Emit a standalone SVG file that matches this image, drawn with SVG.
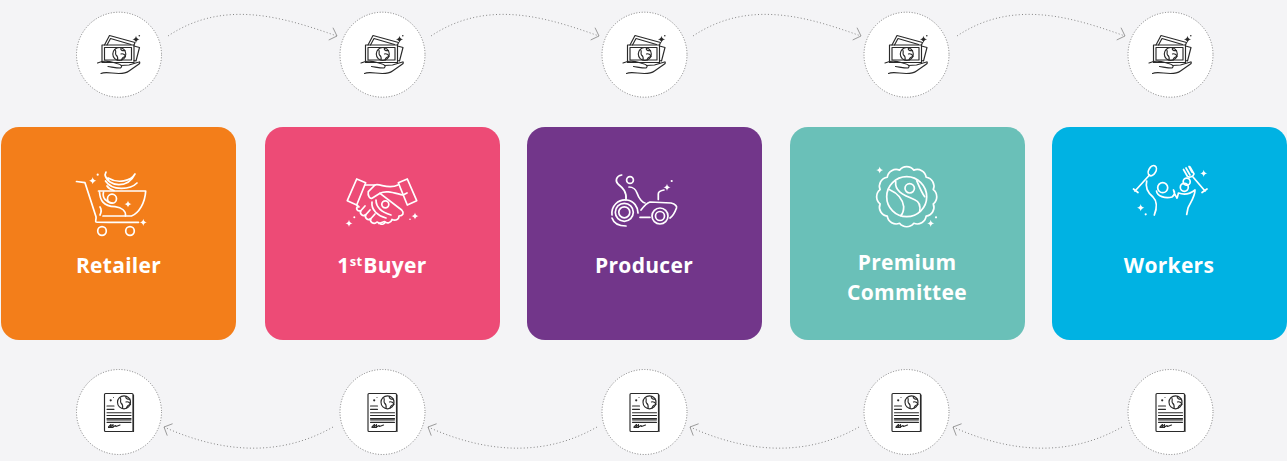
<svg xmlns="http://www.w3.org/2000/svg" width="1287" height="461" viewBox="0 0 1287 461">
<style>
.card{stroke:none}
.ring{fill:#fff;stroke:#808080;stroke-width:1;stroke-dasharray:1 1.7}
.link{fill:none;stroke:#858585;stroke-width:1;stroke-dasharray:1 2.3}
.head{fill:none;stroke:#8f8f8f;stroke-width:.8}
.ico{fill:none;stroke:#fff;stroke-width:1.7;stroke-linecap:round;stroke-linejoin:round}
.wf{fill:#fff;stroke:none}
.dk{fill:none;stroke:#2a2a2a;stroke-width:1.15;stroke-linecap:round;stroke-linejoin:round}
.df{fill:#2a2a2a;stroke:none}
.lbl{font-family:"Open Sans","Liberation Sans",sans-serif;font-weight:700;font-size:21px;fill:#fff;text-anchor:middle;letter-spacing:.3px}
</style>
<defs>
<path id="sp" d="M0-3.600Q.5-.5 3.600 0Q.5.5 0 3.600Q-.5.5-3.600 0Q-.5-.5 0-3.600Z"/>
<marker id="ah" markerUnits="userSpaceOnUse" markerWidth="14" markerHeight="18" refX="11" refY="9" orient="auto">
<path class="head" d="M4.500 2.500L11 9L4.500 15.500"/>
</marker>
<g id="money">
<path class="dk" d="M102 45H134V62.500H102ZM104.500 47.500H131.500V60H104.500Z"/>
<path class="dk" d="M104.500 45L109.500 35.500L135 42.500L134 45M107 45L110.500 38.500L131 44.500"/>
<path class="dk" d="M134 46L139.500 47.500L136 61L134 60.500"/>
<circle class="dk" cx="119.300" cy="54" r="6.500"/>
<path class="dk" d="M115 49.500C117 52 114.500 53 116 55C118 56.500 118 58 117.500 60M121 48C120 50.500 123 51 125 50.500M121 54C123 53 125 55 125.500 56.500C123 57 122 58 121.500 60"/>
<path class="dk" d="M97.500 63L102 61.500C108 60 112 62 117 63.500C121 64.500 123 66 120.500 68C116 68 112 67 108 66.500M121 65.500L129 65L139 62C140 61.500 140 63.500 139 64L129 71C125 74 120 74 112 73C107 72.500 103 72.500 101 73.500"/>
<use href="#sp" class="df" x="136" y="39.300"/>
<circle class="df" cx="139.300" cy="35.700" r=".8"/>
</g>
<g id="doc">
<rect class="dk" x="104.500" y="393.500" width="28.500" height="38" rx="1"/>
<path class="dk" d="M133.500 395V431.500"/>
<circle class="dk" cx="124" cy="402.300" r="6.500"/>
<path class="dk" d="M120 397.500C122 400 119.500 401 121 403C123 404.500 123 406 122.500 408.500M126 396.500C125 398.500 128 399.500 130 399M126 402C128 401 130 403 130.500 404.500C128 405 127 406 126.500 408"/>
<path class="dk" d="M107 406H114M107 409.300H114M107 412.700H131M107 415.500H131M107 418.500H131M107 419.800H131M107 422.300H131"/>
<path class="dk" d="M108.500 427L111 424.500L110.500 427.500L113 424.500L113 427L115.500 425.500L116 426.500L120 425M108.500 427.500H113"/>
<circle class="df" cx="110.700" cy="400.300" r="1.100"/>
<circle class="df" cx="113.500" cy="397.500" r=".5"/>
</g>
</defs>
<rect width="1287" height="461" fill="#f4f4f6"/>

<g id="connectors">
<g>
<path class="link" marker-end="url(#ah)" d="M168 36C225-2 285 18 337 36"/>
<path class="link" marker-end="url(#ah)" d="M431 36C488-2 548 18 599 36"/>
<path class="link" marker-end="url(#ah)" d="M693 36C750-2 810 18 861 36"/>
<path class="link" marker-end="url(#ah)" d="M957 36C1014-2 1074 18 1125 36"/>
</g>
<g>
<path class="link" marker-end="url(#ah)" d="M333 427C275 460 215 450 164 427"/>
<path class="link" marker-end="url(#ah)" d="M597 427C539 460 479 450 428 427"/>
<path class="link" marker-end="url(#ah)" d="M859 427C801 460 741 450 690 427"/>
<path class="link" marker-end="url(#ah)" d="M1122 427C1064 460 1004 450 953 427"/>
</g>
</g>

<g id="pay-1"><circle class="ring" cx="119" cy="54.700" r="42.500"/><use href="#money"/></g>
<g id="pay-2"><circle class="ring" cx="382.500" cy="54.700" r="42.500"/><use href="#money" x="263.500"/></g>
<g id="pay-3"><circle class="ring" cx="644.500" cy="54.700" r="42.500"/><use href="#money" x="525.500"/></g>
<g id="pay-4"><circle class="ring" cx="906.500" cy="54.700" r="42.500"/><use href="#money" x="787.500"/></g>
<g id="pay-5"><circle class="ring" cx="1170.500" cy="54.700" r="42.500"/><use href="#money" x="1051.500"/></g>

<g id="doc-1"><circle class="ring" cx="119" cy="412" r="42.500"/><use href="#doc"/></g>
<g id="doc-2"><circle class="ring" cx="382.500" cy="412" r="42.500"/><use href="#doc" x="263.500"/></g>
<g id="doc-3"><circle class="ring" cx="644.500" cy="412" r="42.500"/><use href="#doc" x="525.500"/></g>
<g id="doc-4"><circle class="ring" cx="906.500" cy="412" r="42.500"/><use href="#doc" x="787.500"/></g>
<g id="doc-5"><circle class="ring" cx="1170.500" cy="412" r="42.500"/><use href="#doc" x="1051.500"/></g>

<g id="retailer">
<rect class="card" x="1" y="127" width="235" height="213" rx="18" fill="#f37e1a"/>
<path class="ico" d="M76.500 181.500L85 182.700L96 216.700C96.500 219 95 221 96 222C97 222.500 120 222.300 138.500 222.300"/>
<path class="ico" d="M98.500 191H145.700C145 203 139 213 131.500 216H103"/>
<path class="ico" d="M99.500 192C100 200 103 206 115 206.700C122 207.500 126 211 125.500 216M103.500 192C102 198 106 202 112 203M100 207C102 210 101 213 100 215"/>
<path class="ico" d="M105 175C108 187 128 189 135 174C131 181 118 184 108 178M105.500 181C112 191 130 190 137 183M105 175L106 172M107 186C109 189 112 190 114 190.500"/>
<circle class="ico" cx="112" cy="198.700" r="4.500"/>
<circle class="ico" cx="102" cy="231" r="4.300"/>
<circle class="ico" cx="130" cy="231" r="4.300"/>
<use href="#sp" class="wf" x="92.700" y="180.700"/>
<circle class="wf" cx="97.700" cy="174.700" r="1.100"/>
<use href="#sp" class="wf" x="128" y="204"/>
<use href="#sp" class="wf" x="143.300" y="222.300"/>
<text class="lbl" x="118.500" y="273">Retailer</text>
</g>

<g id="first-buyer">
<rect class="card" x="265" y="127" width="235" height="213" rx="18" fill="#ed4b76"/>
<path class="ico" d="M356.700 179L365.700 182.700L356.700 205L347.300 200.700ZM398.300 182.700L407.300 179L416.700 200.700L407.300 205Z"/>
<path class="ico" d="M365.700 185L375 185L368.300 191.700C367.500 196 370 199 372 198.300L380 193.300L401.700 210C404.500 213 403 216 399 216C399 220 395 221 392 219.500C391 223 387 224 384.500 221.500L379 223.500"/>
<path class="ico" d="M375 185C380 183 388 190 398 185M380 193.300C386 190 394 193 403 195L407 193"/>
<path class="ico" d="M358 206C355 209 358 212 361 210.500C359 214 363 217 366 214.500C364 218 368 221 371 218.500C369 222 374 225 377 222L380 223.500C382 225 385 224 385 222M361 210.500L365 206M366 214.500L370 210M371 218.500L375 214M356.700 205L359 207"/>
<path class="ico" d="M372 202C371 210 378 216 386 218M376 200C376 207 381 212 391 215"/>
<circle class="ico" cx="385.300" cy="204.300" r="3.500"/>
<use href="#sp" class="wf" x="349" y="223.300"/>
<circle class="wf" cx="354.300" cy="217.300" r="1"/>
<use href="#sp" class="wf" x="415" y="216"/>
<circle class="wf" cx="410" cy="219.300" r=".8"/>
<text class="lbl" x="382" y="273">1<tspan font-size="13" dy="-7">st</tspan><tspan dy="7" dx="1">Buyer</tspan></text>
</g>

<g id="producer">
<rect class="card" x="527" y="127" width="235" height="213" rx="18" fill="#72368a"/>
<path class="ico" d="M621.700 175C616 176 615 181 618 184C623 188 627 192 626 200"/>
<path class="ico" d="M629 187C633 187 636 190 637 193C639 199 643 203 645 203"/>
<circle class="ico" cx="630" cy="180" r="3.400"/>
<path class="ico" d="M612 215C611 206 618 199 627 200C634 201 638 207 638 213"/>
<path class="ico" d="M612 218C614 224 620 226 626 226"/>
<circle class="ico" cx="624.300" cy="212.300" r="9"/>
<circle class="ico" cx="624.300" cy="212.300" r="5.500"/>
<circle class="ico" cx="660" cy="216" r="8"/>
<circle class="ico" cx="660" cy="216" r="4.500"/>
<path class="ico" d="M640 217.300H650M641 210C644 206 647 203 650 202L671 203C675 204 677 206 676.500 208C675 212 673 216 670 218M658.300 199.500V194C658.300 191.500 661 190.500 664 190"/>
<use href="#sp" class="wf" x="667" y="187.300"/>
<circle class="wf" cx="671.700" cy="181" r="1.100"/>
<text class="lbl" x="644" y="273">Producer</text>
</g>

<g id="premium-committee">
<rect class="card" x="790" y="127" width="235" height="213" rx="18" fill="#6ac0b8"/>
<g transform="translate(906.700 196.700)">
<path class="ico" d="M26.560 7.120A9 9 0 0 1 19.450 19.450A9 9 0 0 1 7.120 26.560A9 9 0 0 1-7.120 26.560A9 9 0 0 1-19.450 19.450A9 9 0 0 1-26.560 7.120A9 9 0 0 1-26.560-7.120A9 9 0 0 1-19.450-19.450A9 9 0 0 1-7.120-26.560A9 9 0 0 1 7.120-26.560A9 9 0 0 1 19.450-19.450A9 9 0 0 1 26.560-7.120A9 9 0 0 1 26.560 7.120Z"/>
<circle class="ico" r="20"/>
<circle class="ico" cx="3" cy="-8.400" r="4.700"/>
<path class="ico" d="M-11-15C-12-6-5-2 8 3C13 5 14 9 13 15"/>
<path class="ico" d="M-17-7C-8-3-4 2-3 10C-3 14-4 17-6 19"/>
<path class="ico" d="M10-16C13-9 15-4 18 0"/>
</g>
<use href="#sp" class="wf" x="879.700" y="170"/>
<use href="#sp" class="wf" x="930.700" y="223.300"/>
<circle class="wf" cx="936" cy="217.300" r="1.100"/>
<text class="lbl" x="907" y="270">Premium</text>
<text class="lbl" x="907" y="300">Committee</text>
</g>

<g id="workers">
<rect class="card" x="1052" y="127" width="235" height="213" rx="18" fill="#00b2e3"/>
<ellipse class="ico" cx="1152.300" cy="170.700" rx="3.500" ry="5.500" transform="rotate(30 1152.300 170.700)"/>
<path class="ico" d="M1149.500 175L1135 191M1133.500 189L1138 192.500"/>
<path class="ico" d="M1146.700 181C1145 188 1148 193 1153 197C1157 201 1157 208 1154.300 215"/>
<path class="ico" d="M1156.500 191C1157 196 1165 199 1172 197C1175 195 1175 192 1173.500 190C1174 194 1176 196 1177 198C1178 196 1178 194 1178.500 193C1184 195 1190 194 1195 190C1195 197 1190 203 1188 208L1186.700 214.500"/>
<circle class="ico" cx="1162.700" cy="187.700" r="5"/>
<circle class="ico" cx="1184.300" cy="187.300" r="4"/>
<circle class="ico" cx="1186.700" cy="181.700" r="3.500"/>
<path class="ico" d="M1183.500 169.500L1187.500 176.500C1190 178 1193 176.500 1194 174L1190 167M1186 168L1190 175M1189 166.500L1192 172M1193 177L1205 191M1202 192.500L1207 189"/>
<use href="#sp" class="wf" x="1140.700" y="207.700"/>
<circle class="wf" cx="1145.700" cy="214.300" r="1.100"/>
<use href="#sp" class="wf" x="1203.700" y="173.300"/>
<text class="lbl" x="1169" y="273">Workers</text>
</g>
</svg>
